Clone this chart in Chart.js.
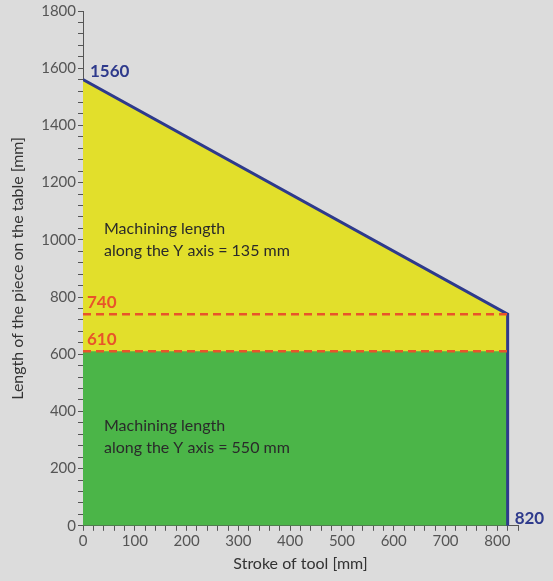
<!DOCTYPE html>
<html>
<head>
<meta charset="utf-8">
<script src="https://cdn.jsdelivr.net/npm/chart.js@4/dist/chart.umd.min.js"></script>
<style>
  html, body { margin: 0; padding: 0; background: #dcdcdc; }
  #wrap { width: 553px; height: 581px; }
</style>
</head>
<body>
<div id="wrap"><canvas id="c"></canvas></div>
<script>
// values
const strokeX = [0, 820];            // stroke of tool [mm]
const lengthTop = [1560, 740];       // max piece length at both ends
const limit135 = [740, 740];         // dashed line, 135 mm zone
const limit550 = [610, 610];         // dashed line, 550 mm zone
const zoneLabels = [
  { y: 1020, lines: ["Machining length", "along the Y axis = 135 mm"] },
  { y: 330, lines: ["Machining length", "along the Y axis = 550 mm"] },
];

const pts = (xs, ys) => xs.map((x, i) => ({ x: x, y: ys[i] }));
const FONT = "Lato";

// text annotations (values + zone captions)
const notes = {
  id: "notes",
  afterDraw(chart) {
    const { ctx, scales: { x, y } } = chart;
    ctx.save();
    ctx.textBaseline = "alphabetic";
    ctx.font = "bold 17px " + FONT;
    ctx.fillStyle = "#2e3a8c";
    ctx.textAlign = "left";
    ctx.fillText(String(lengthTop[0]), x.getPixelForValue(strokeX[0]) + 7, y.getPixelForValue(lengthTop[0]) - 3);
    ctx.fillText(String(strokeX[1]), x.getPixelForValue(strokeX[1]) + 7, y.getPixelForValue(0) - 2);
    ctx.fillStyle = "#e8542a";
    ctx.fillText(String(limit135[0]), x.getPixelForValue(0) + 4, y.getPixelForValue(limit135[0]) - 6);
    ctx.fillText(String(limit550[0]), x.getPixelForValue(0) + 4, y.getPixelForValue(limit550[0]) - 6);
    ctx.font = "16px " + FONT;
    ctx.fillStyle = "#2a2a2a";
    zoneLabels.forEach(z => {
      const px = x.getPixelForValue(0) + 21;
      const py = y.getPixelForValue(z.y);
      z.lines.forEach((t, i) => ctx.fillText(t, px, py + i * 22));
    });
    ctx.restore();
  }
};

new Chart(document.getElementById("c"), {
  type: "scatter",
  data: {
    datasets: [
      {
        data: pts(strokeX, limit135),
        showLine: true, borderColor: "#e8542a", borderWidth: 2.5,
        borderDash: [8, 5], pointRadius: 0, fill: false
      },
      {
        data: pts(strokeX, limit550),
        showLine: true, borderColor: "#e8542a", borderWidth: 2.5,
        borderDash: [8, 5], pointRadius: 0, fill: false
      },
      {
        data: pts(strokeX.concat([strokeX[1]]), lengthTop.concat([0])),
        showLine: true, borderColor: "#2e3a8c", borderWidth: 3,
        pointRadius: 0, fill: false
      },
      {
        data: pts(strokeX, limit550),
        showLine: true, borderWidth: 0, pointRadius: 0,
        backgroundColor: "#4bb548", fill: "origin"
      },
      {
        data: pts(strokeX, lengthTop),
        showLine: true, borderWidth: 0, pointRadius: 0,
        backgroundColor: "#e2df2b", fill: { value: 600 }
      },
    ]
  },
  options: {
    responsive: true,
    maintainAspectRatio: false,
    animation: false,
    layout: { padding: { top: 8, right: 35, bottom: 4, left: 4 } },
    plugins: { legend: { display: false }, tooltip: { enabled: false } },
    scales: {
      x: {
        type: "linear", min: 0, max: 840,
        border: { color: "#555", width: 1 },
        grid: { drawOnChartArea: false, tickLength: 5, color: "#555" },
        ticks: {
          stepSize: 20, autoSkip: false, maxRotation: 0,
          color: "#555", font: { family: FONT, size: 15 }, padding: 1,
          callback: v => (v % 100 === 0 && v <= 800) ? v : ""
        },
        title: { display: true, text: "Stroke of tool [mm]", color: "#333",
                 font: { family: FONT, size: 16 }, padding: { top: 3 } }
      },
      y: {
        min: 0, max: 1800,
        border: { color: "#555", width: 1 },
        grid: { drawOnChartArea: false, tickLength: 5, color: "#555" },
        ticks: {
          stepSize: 40, autoSkip: false,
          color: "#555", font: { family: FONT, size: 15 }, padding: 2,
          callback: v => v % 200 === 0 ? v : ""
        },
        title: { display: true, text: "Length of the piece on the table [mm]", color: "#333",
                 font: { family: FONT, size: 16 }, padding: { bottom: 4 } },
        afterFit: s => { s.width = 79; }
      }
    }
  },
  plugins: [notes]
});
</script>
</body>
</html>
